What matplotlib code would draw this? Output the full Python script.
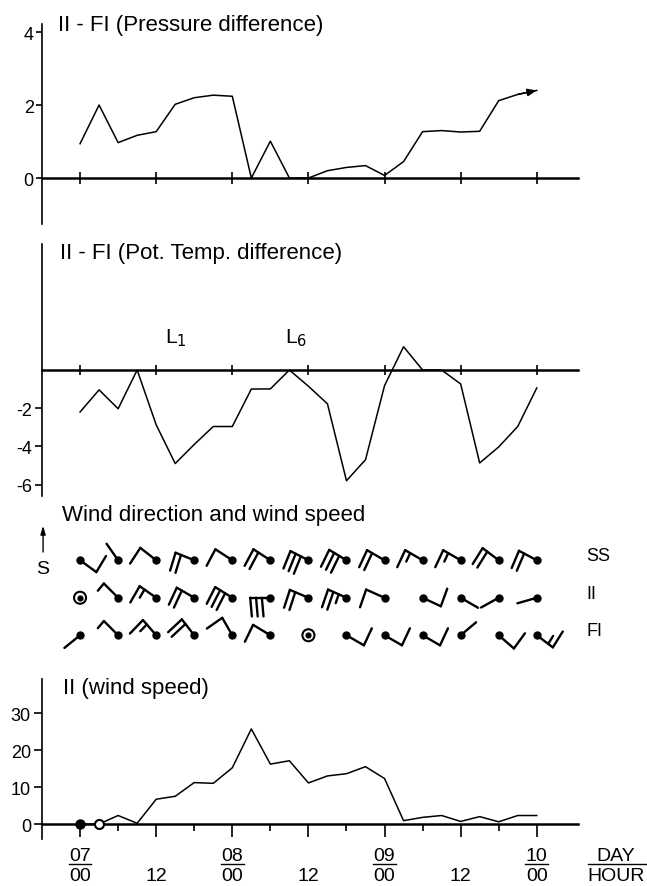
import numpy as np
import matplotlib.pyplot as plt
from matplotlib.collections import LineCollection
from matplotlib.transforms import Affine2D

plt.rcParams['font.family'] = ['Liberation Sans', 'DejaVu Sans']
plt.rcParams['axes.unicode_minus'] = False

# time axis, hours after 07/00
hours = [0, 3, 6, 9, 12, 15, 18, 21, 24, 27, 30, 33, 36,
         39, 42, 45, 48, 51, 54, 57, 60, 63, 66, 69, 72]

# II - FI pressure difference
pressure = [0.94, 2.0, 0.97, 1.17, 1.27, 2.02, 2.2, 2.27, 2.24, 0.0, 1.01, 0.0, 0.0,
            0.2, 0.29, 0.34, 0.07, 0.45, 1.27, 1.3, 1.26, 1.28, 2.12, 2.29, 2.4]

# II - FI potential temperature difference
pot_temp = [-2.2, -1.04, -2.03, 0.0, -2.87, -4.9, -3.9, -2.96, -2.96, -1.0, -0.99, 0.0, -0.85,
            -1.77, -5.8, -4.7, -0.82, 1.22, 0.0, 0.0, -0.73, -4.87, -4.03, -2.96, -0.94]

# II wind speed
wind_speed = [0, 0, 2.3, 0.2, 6.7, 7.5, 11.2, 11.0, 15.2, 25.7, 16.2, 17.1, 11.1,
              13.0, 13.6, 15.5, 12.3, 0.9, 1.8, 2.3, 0.7, 2.0, 0.6, 2.3, 2.3]

# wind symbols every 6 h: shaft direction on the page (deg) and number of feathers
station_hours = [0, 6, 12, 18, 24, 30, 36, 42, 48, 54, 60, 66, 72]
stations = ['SS', 'II', 'FI']
ss_dir = [-36, 125, 142, 158, 147, 147, 153, 149, 150, 150, 150, 143, 152]
ss_feathers = [1, 0, 1, 2, 1, 2, 3, 3, 2, 1.5, 1.5, 2, 2]
ii_dir = [None, 135, 145, 150, 148, 180, 157, 156, 156, -25, -30, 209, 196]
ii_feathers = [0, 0.5, 1.5, 2, 3, 3, 2, 2.5, 1, 1, 0, 0, 0]
fi_dir = [219, 135, 131, 128, 120, 149, None, -30, -30, -30, 40, -41, -37]
fi_feathers = [0, 0.5, 1.5, 2, 1, 1, 0, 1, 1, 1, 0, 1, 1.5]

day_hours = [0, 24, 48, 72]
day_labels = ['07', '08', '09', '10']
hour_ticks = [0, 12, 24, 36, 48, 60, 72]
hour_labels = ['00', '12', '00', '12', '00', '12', '00']

SHAFT = 14.5     # points
FEATHER = 13.5
SPACING = 4.2
TURN = 95


def barb_segments(angle, n):
    th = np.radians(angle)
    d = np.array([np.cos(th), np.sin(th)])
    f = np.array([np.cos(th + np.radians(TURN)), np.sin(th + np.radians(TURN))])
    tip = d * SHAFT
    segs = [[(0, 0), tuple(tip)]]
    pos = tip
    full = int(n)
    for i in range(full):
        segs.append([tuple(pos), tuple(pos + f * FEATHER)])
        pos = pos - d * SPACING
    if n - full >= 0.5:
        segs.append([tuple(pos), tuple(pos + f * FEATHER * 0.5)])
    return segs


fig = plt.figure(figsize=(6.47, 8.87), dpi=100)
L, W = 42 / 647, 536 / 647
XLIM = (-6, 78.5)

ax1 = fig.add_axes([L, 1 - 225 / 887, W, 200 / 887])
ax2 = fig.add_axes([L, 1 - 497 / 887, W, 252 / 887])
ax3 = fig.add_axes([L, 1 - 670 / 887, W, 150 / 887])
ax4 = fig.add_axes([L, 1 - 840 / 887, W, 160 / 887])

for ax in (ax1, ax2, ax4):
    ax.set_xlim(*XLIM)
    ax.spines['top'].set_visible(False)
    ax.spines['right'].set_visible(False)
    ax.spines['bottom'].set_position(('data', 0))
    ax.spines['bottom'].set_linewidth(1.8)
    ax.spines['left'].set_linewidth(1.2)
    ax.set_xticks(hour_ticks)
    ax.tick_params(axis='y', labelsize=13, width=1.2, pad=2)
    ax.patch.set_visible(False)

# pressure difference
ax1.set_ylim(-1.26, 4.22)
ax1.plot(hours, pressure, color='black', lw=1.1)
ax1.annotate('', xy=(hours[-1], pressure[-1]), xytext=(hours[-2], pressure[-2]),
             arrowprops=dict(arrowstyle='-|>,head_length=0.55,head_width=0.22',
                             color='black', lw=1.1, shrinkA=0, shrinkB=0))
ax1.set_yticks([0, 2, 4])
ax1.tick_params(axis='y', length=4)
ax1.tick_params(axis='x', direction='inout', length=8, width=1.2, labelbottom=False)
ax1.text(0.03, 1.0, 'II - FI (Pressure difference)', transform=ax1.transAxes,
         fontsize=16, va='center', ha='left')

# potential temperature difference
ax2.set_ylim(-6.6, 6.6)
ax2.plot(hours, pot_temp, color='black', lw=1.1)
ax2.set_yticks([-2, -4, -6])
ax2.set_yticklabels(['-2', '-4', '-6'])
ax2.tick_params(axis='y', length=5)
ax2.tick_params(axis='x', direction='inout', length=7, width=1.2, labelbottom=False)
ax2.text(0.034, 0.968, 'II - FI (Pot. Temp. difference)', transform=ax2.transAxes,
         fontsize=16, va='center', ha='left')
ax2.text(13.4, 1.7, 'L$_1$', fontsize=15, va='center', ha='left')
ax2.text(32.3, 1.7, 'L$_6$', fontsize=15, va='center', ha='left')

# wind direction and speed symbols
ax3.set_xlim(*XLIM)
ax3.set_ylim(-0.9, 3.1)
ax3.axis('off')
segs, offs = [], []
for row, (dirs, feathers) in enumerate([(fi_dir, fi_feathers), (ii_dir, ii_feathers),
                                        (ss_dir, ss_feathers)]):
    for t, a, n in zip(station_hours, dirs, feathers):
        if a is None:
            ax3.scatter([t], [row], s=75, facecolors='none', edgecolors='black',
                        linewidths=1.5, zorder=3)
            ax3.scatter([t], [row], s=12, color='black', zorder=3)
            continue
        for s in barb_segments(a, n):
            segs.append(s)
            offs.append((t, row))
        ax3.plot([t], [row], 'o', color='black', ms=5, zorder=3)
lc = LineCollection(segs, offsets=offs, offset_transform=ax3.transData,
                    transform=Affine2D().scale(fig.dpi / 72), colors='black',
                    linewidths=1.7, capstyle='round')
ax3.add_collection(lc, autolim=False)
for row, name in zip([2, 1, 0], stations):
    ax3.text(79.8, row + 0.12, name, fontsize=13, va='center', ha='left')
ax3.text(0.037, 1.033, 'Wind direction and wind speed', transform=ax3.transAxes,
         fontsize=16, va='center', ha='left')
ax3.annotate('', xy=(0.002, 0.955), xytext=(0.002, 0.78), xycoords='axes fraction',
             arrowprops=dict(arrowstyle='-|>,head_length=0.5,head_width=0.15',
                             color='black', lw=1.0, shrinkA=0, shrinkB=0))
ax3.text(0.002, 0.667, 'S', transform=ax3.transAxes, fontsize=14, va='center', ha='center')

# II wind speed
ax4.set_ylim(-4.05, 39.2)
ax4.plot(hours, wind_speed, color='black', lw=1.1)
ax4.plot(hours[0], wind_speed[0], 'o', color='black', ms=6.5, zorder=4, clip_on=False)
ax4.plot(hours[1], wind_speed[1], 'o', mfc='white', mec='black', mew=1.5, ms=6.5,
         zorder=4, clip_on=False)
ax4.set_yticks([0, 10, 20, 30])
ax4.tick_params(axis='y', length=6)
ax4.set_xticks(hours[2::4], minor=True)
ax4.tick_params(axis='x', which='major', direction='out', length=9, width=1.2,
                labelbottom=False)
ax4.tick_params(axis='x', which='minor', direction='out', length=5, width=1.2)
ax4.text(0.039, 0.944, 'II (wind speed)', transform=ax4.transAxes,
         fontsize=16, va='center', ha='left')

xt = ax4.get_xaxis_transform()
for t, lab in zip(day_hours, day_labels):
    ax4.text(t, -0.106, lab, transform=xt, fontsize=14, ha='center', va='center')
    ax4.plot([t - 1.8, t + 1.8], [-0.156, -0.156], transform=xt, color='black',
             lw=1.0, clip_on=False)
for t, lab in zip(hour_ticks, hour_labels):
    ax4.text(t, -0.231, lab, transform=xt, fontsize=14, ha='center', va='center')
ax4.text(84.5, -0.106, 'DAY', transform=xt, fontsize=14, ha='center', va='center')
ax4.plot([80.0, 89.2], [-0.156, -0.156], transform=xt, color='black', lw=1.0,
         clip_on=False)
ax4.text(84.5, -0.231, 'HOUR', transform=xt, fontsize=14, ha='center', va='center')

fig.savefig('out.png', dpi=100)
